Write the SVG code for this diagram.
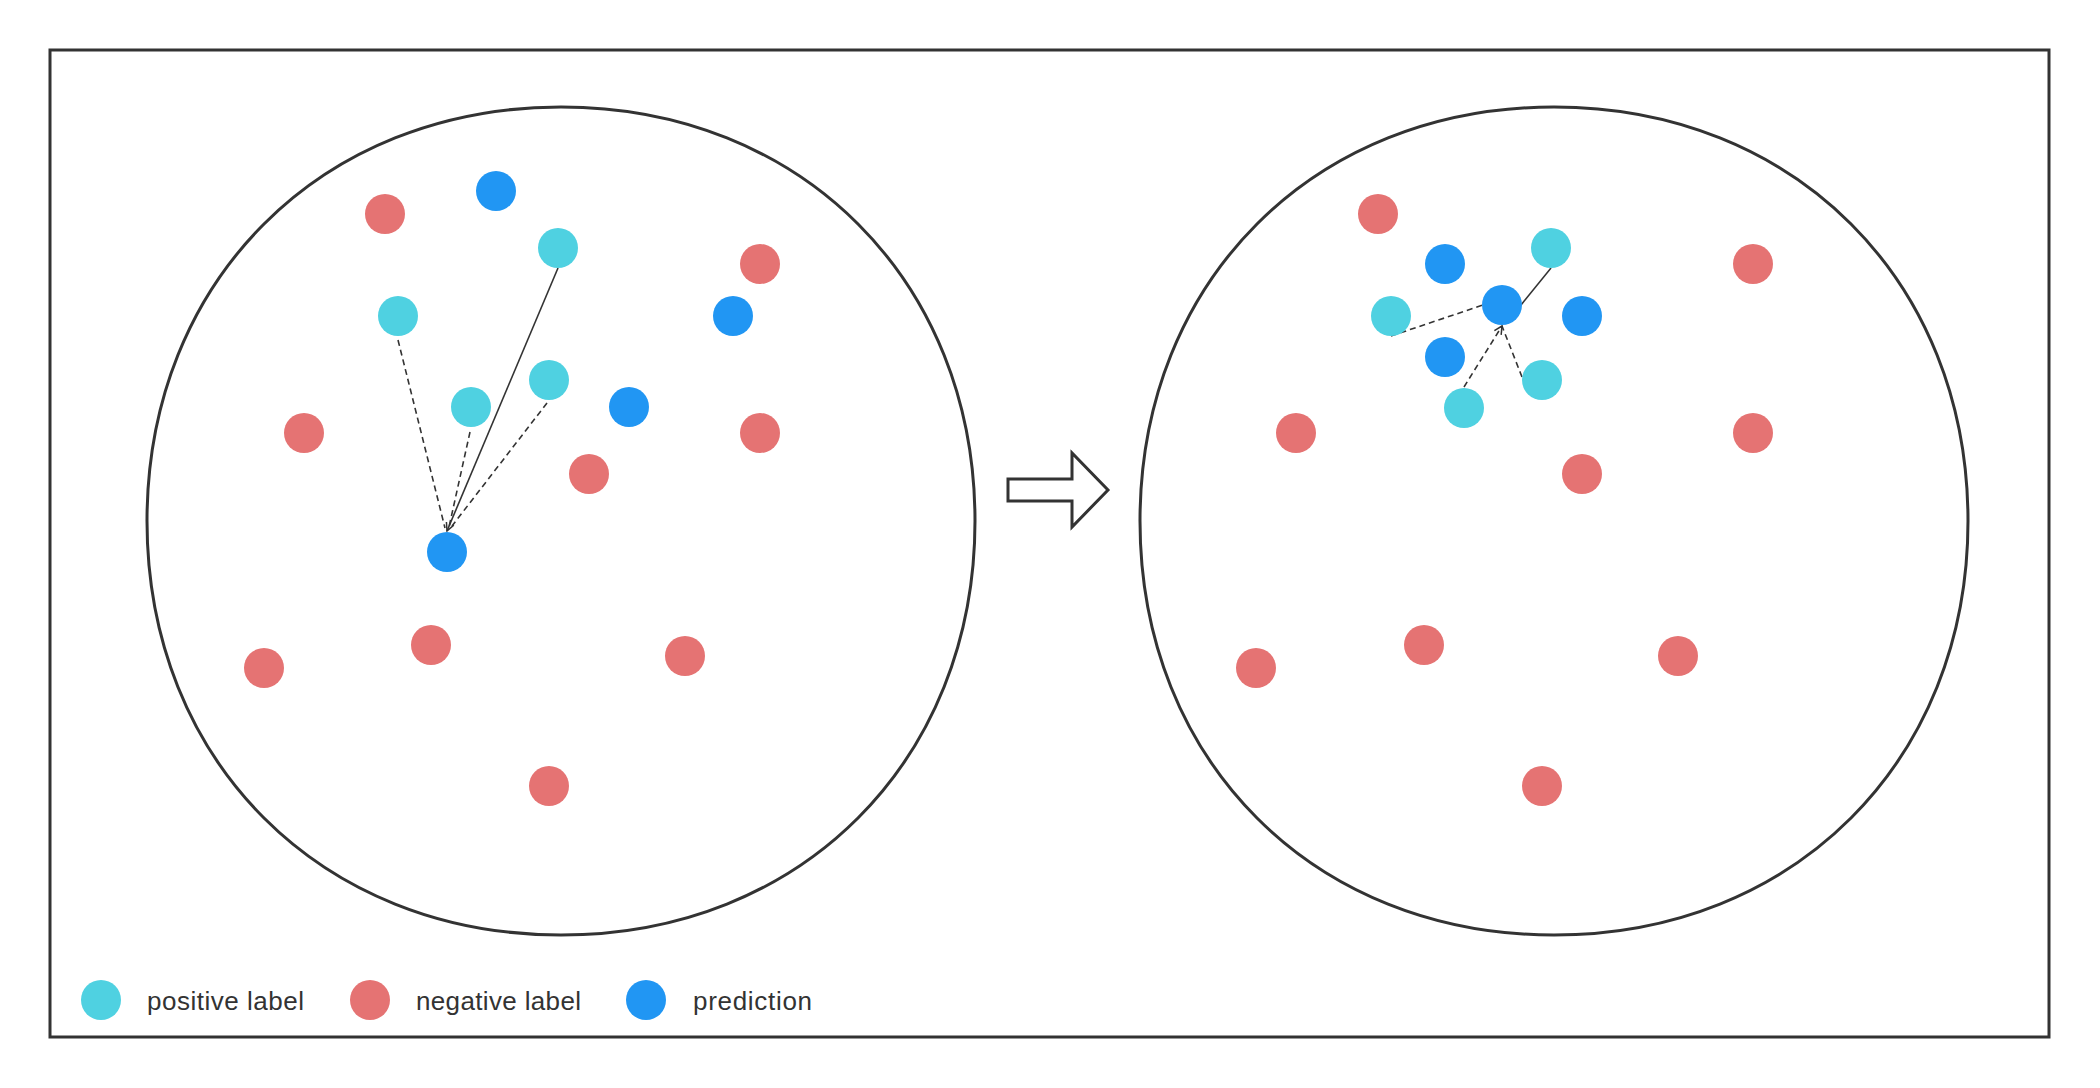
<svg xmlns="http://www.w3.org/2000/svg" width="2100" height="1088" viewBox="0 0 2100 1088">
<defs>
<marker id="arr" viewBox="0 0 10 10" refX="9" refY="5" markerWidth="10" markerHeight="10" markerUnits="userSpaceOnUse" orient="auto">
<path d="M1,1 L9,5 L1,9" fill="none" stroke="#333" stroke-width="1.5"/>
</marker>
</defs>
<style>
.frame{fill:#fff;stroke:#333;stroke-width:3}
.blob{fill:none;stroke:#333;stroke-width:3}
.pos{fill:#4fd1e1}
.neg{fill:#e57373}
.pred{fill:#2196f3}
.solid{stroke:#333;stroke-width:1.6;fill:none}
.dash{stroke:#333;stroke-width:1.6;fill:none;stroke-dasharray:6 4}
.lbl{font-family:"Liberation Sans",Arial,sans-serif;font-size:26px;fill:#333}
</style>
<rect width="2100" height="1088" fill="#fff"/>
<rect id="frame" class="frame" x="50" y="50" width="1999" height="987"/>
<g id="left-space">
<path class="blob" d="M147,521 C147,281 321,107 561,107 C801,107 975,281 975,521 C975,761 801,935 561,935 C321,935 147,761 147,521 Z"/>
</g>
<g id="right-space">
<path class="blob" d="M1140,521 C1140,281 1314,107 1554,107 C1794,107 1968,281 1968,521 C1968,761 1794,935 1554,935 C1314,935 1140,761 1140,521 Z"/>
</g>
<g id="transition-arrow">
<polygon points="1008,479 1072,479 1072,453 1108,490 1072,527 1072,501 1008,501" fill="#fff" stroke="#333" stroke-width="3"/>
</g>
<g id="connectors">
<line class="solid" x1="558" y1="268" x2="447" y2="531" marker-end="url(#arr)"/>
<line class="dash" x1="398" y1="340" x2="445" y2="528"/>
<line class="dash" x1="470" y1="432" x2="449" y2="527"/>
<line class="dash" x1="547" y1="403" x2="452" y2="526"/>
<line class="solid" x1="1551" y1="268" x2="1521" y2="305"/>
<line class="dash" x1="1391" y1="336" x2="1483" y2="305"/>
<line class="dash" x1="1464" y1="387" x2="1502" y2="326" marker-end="url(#arr)"/>
<line class="dash" x1="1522" y1="377" x2="1502" y2="326"/>
</g>
<g id="left-points">
<circle id="l-neg-1" class="neg" cx="385" cy="214" r="20"/>
<circle id="l-pred-1" class="pred" cx="496" cy="191" r="20"/>
<circle id="l-pos-1" class="pos" cx="558" cy="248" r="20"/>
<circle id="l-neg-2" class="neg" cx="760" cy="264" r="20"/>
<circle id="l-pos-2" class="pos" cx="398" cy="316" r="20"/>
<circle id="l-pred-2" class="pred" cx="733" cy="316" r="20"/>
<circle id="l-pos-3" class="pos" cx="549" cy="380" r="20"/>
<circle id="l-pos-4" class="pos" cx="471" cy="407" r="20"/>
<circle id="l-pred-3" class="pred" cx="629" cy="407" r="20"/>
<circle id="l-neg-3" class="neg" cx="304" cy="433" r="20"/>
<circle id="l-neg-4" class="neg" cx="760" cy="433" r="20"/>
<circle id="l-neg-5" class="neg" cx="589" cy="474" r="20"/>
<circle id="l-pred-4" class="pred" cx="447" cy="552" r="20"/>
<circle id="l-neg-6" class="neg" cx="431" cy="645" r="20"/>
<circle id="l-neg-7" class="neg" cx="264" cy="668" r="20"/>
<circle id="l-neg-8" class="neg" cx="685" cy="656" r="20"/>
<circle id="l-neg-9" class="neg" cx="549" cy="786" r="20"/>
</g>
<g id="right-points">
<circle id="r-neg-1" class="neg" cx="1378" cy="214" r="20"/>
<circle id="r-pred-1" class="pred" cx="1445" cy="264" r="20"/>
<circle id="r-pos-1" class="pos" cx="1551" cy="248" r="20"/>
<circle id="r-neg-2" class="neg" cx="1753" cy="264" r="20"/>
<circle id="r-pred-c" class="pred" cx="1502" cy="305" r="20"/>
<circle id="r-pos-2" class="pos" cx="1391" cy="316" r="20"/>
<circle id="r-pred-2" class="pred" cx="1582" cy="316" r="20"/>
<circle id="r-pred-3" class="pred" cx="1445" cy="357" r="20"/>
<circle id="r-pos-3" class="pos" cx="1542" cy="380" r="20"/>
<circle id="r-pos-4" class="pos" cx="1464" cy="408" r="20"/>
<circle id="r-neg-3" class="neg" cx="1296" cy="433" r="20"/>
<circle id="r-neg-4" class="neg" cx="1753" cy="433" r="20"/>
<circle id="r-neg-5" class="neg" cx="1582" cy="474" r="20"/>
<circle id="r-neg-6" class="neg" cx="1424" cy="645" r="20"/>
<circle id="r-neg-7" class="neg" cx="1256" cy="668" r="20"/>
<circle id="r-neg-8" class="neg" cx="1678" cy="656" r="20"/>
<circle id="r-neg-9" class="neg" cx="1542" cy="786" r="20"/>
</g>
<g id="legend-positive">
<circle class="pos" cx="101" cy="1000" r="20"/>
<text class="lbl" x="147" y="1010" textLength="157" lengthAdjust="spacing">positive label</text>
</g>
<g id="legend-negative">
<circle class="neg" cx="370" cy="1000" r="20"/>
<text class="lbl" x="416" y="1010" textLength="165" lengthAdjust="spacing">negative label</text>
</g>
<g id="legend-prediction">
<circle class="pred" cx="646" cy="1000" r="20"/>
<text class="lbl" x="693" y="1010" textLength="119" lengthAdjust="spacing">prediction</text>
</g>
</svg>
